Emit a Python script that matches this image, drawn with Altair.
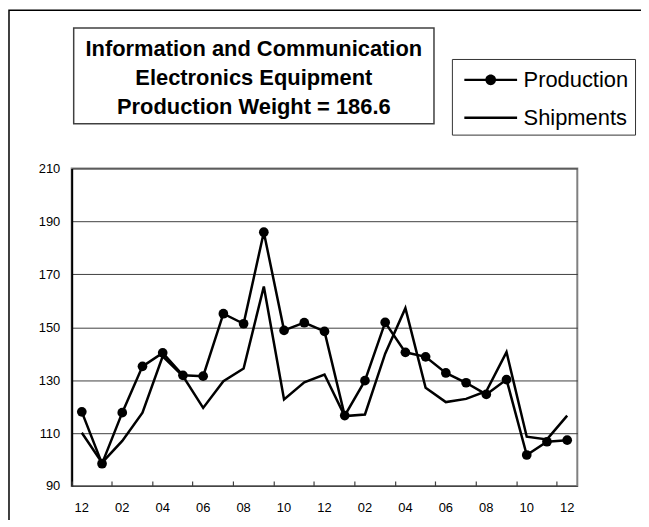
import json
import altair as alt
import pandas as pd

# ---- data ----
MONTHS = ["12", "01", "02", "03", "04", "05", "06", "07", "08", "09", "10", "11",
          "12", "01", "02", "03", "04", "05", "06", "07", "08", "09", "10", "11", "12"]
PRODUCTION = [118.0, 98.4, 117.7, 135.2, 140.3, 131.8, 131.5, 155.1, 151.3, 185.9,
              148.8, 151.7, 148.4, 116.6, 129.8, 151.8, 140.5, 138.8, 132.7, 129.0,
              124.6, 130.2, 101.7, 106.7, 107.3]
SHIPMENTS = [110.1, 98.8, 107.0, 117.7, 139.0, 131.5, 119.5, 129.6, 134.4, 165.4,
             122.7, 129.2, 132.1, 116.4, 117.0, 140.0, 157.2, 127.1, 121.7, 122.9,
             125.8, 140.6, 108.6, 107.6, 116.6]
SERIES = ["Production", "Shipments"]
TITLE_LINES = ["Information and Communication", "Electronics Equipment",
               "Production Weight = 186.6"]
Y_TICKS = [90, 110, 130, 150, 170, 190, 210]
X_TICKS = list(range(0, len(MONTHS), 2))

rows = []
for i in range(len(MONTHS)):
    rows.append({"idx": i, "series": SERIES[0], "value": PRODUCTION[i]})
    rows.append({"idx": i, "series": SERIES[1], "value": SHIPMENTS[i]})
df = pd.DataFrame(rows)
one = pd.DataFrame({"k": [0]})

FONT = "Liberation Sans, Arial, sans-serif"

# legend glyphs (unit coordinates, scaled by sqrt(symbolSize)/2)
BAR = "M-1.767,-0.083H1.767V0.083H-1.767Z"
DOT = "M0.36,0A0.36,0.36,0,1,1,-0.36,0A0.36,0.36,0,1,1,0.36,0Z"
PROD_PATH = BAR + DOT
SHIP_PATH = BAR

x_scale = alt.Scale(type="band", paddingInner=0, paddingOuter=0)
y_scale = alt.Scale(domain=[90, 210], nice=False, zero=False)

x_enc = alt.X(
    "idx:O", scale=x_scale,
    axis=alt.Axis(
        title=None, values=X_TICKS,
        labelExpr=json.dumps(MONTHS) + "[datum.value]",
        labelAngle=0, labelFont=FONT, labelFontSize=13, labelColor="black",
        labelPadding=16, ticks=True, tickSize=5, tickColor="#404040",
        tickWidth=1.2, bandPosition=0, offset=-5, domain=False, grid=False,
        zindex=1,
    ),
)
y_enc = alt.Y(
    "value:Q", scale=y_scale,
    axis=alt.Axis(
        title=None, values=Y_TICKS, ticks=False, labelFont=FONT,
        labelFontSize=13, labelColor="black", labelPadding=12,
        domainColor="black", domainWidth=2, gridColor="#404040", gridWidth=1,
    ),
)

lines = alt.Chart(df).mark_line(strokeWidth=2.5, color="black").encode(
    x=x_enc, y=y_enc, detail="series:N"
)

points = alt.Chart(df).transform_filter(
    alt.datum.series == SERIES[0]
).mark_point(filled=True, size=95, opacity=1, color="black").encode(
    x=x_enc, y=y_enc
)

legend_layer = alt.Chart(df).transform_filter("false").mark_point(
    filled=True, fill="black", opacity=1, fillOpacity=1,
).encode(
    shape=alt.Shape(
        "series:N",
        scale=alt.Scale(domain=SERIES, range=[PROD_PATH, SHIP_PATH]),
        legend=alt.Legend(
            title=None, orient="none", legendX=382, legendY=-110,
            fillColor="white", strokeColor="#333333", padding=6,
            symbolSize=900, symbolStrokeWidth=0, symbolOffset=18,
            symbolFillColor="black",
            labelOffset=18, rowPadding=12, labelFont=FONT, labelFontSize=22,
            labelColor="black",
        ),
    )
)

frame = alt.Chart(one).mark_rect(fill=None, stroke="black", strokeWidth=1.5).encode(
    x=alt.value(-63), x2=alt.value(620), y=alt.value(-159), y2=alt.value(400)
)
title_box = alt.Chart(one).mark_rect(fill="white", stroke="#404040", strokeWidth=1.5).encode(
    x=alt.value(2), x2=alt.value(364), y=alt.value(-141), y2=alt.value(-45)
)
title_text = alt.Chart(one).mark_text(
    font=FONT, fontSize=22, fontWeight="bold", align="center",
    baseline="alphabetic", lineHeight=29, color="black",
).encode(x=alt.value(183), y=alt.value(-113), text=alt.value(TITLE_LINES))

chart = alt.layer(frame, title_box, title_text, lines, points, legend_layer).properties(
    width=508, height=319,
    padding={"left": 64, "top": 160, "right": 64, "bottom": 33},
    autosize=alt.AutoSizeParams(type="none"),
).configure_view(stroke="#808080", strokeWidth=2)

chart.save("out.html", embed_options={"renderer": "svg", "actions": False})
